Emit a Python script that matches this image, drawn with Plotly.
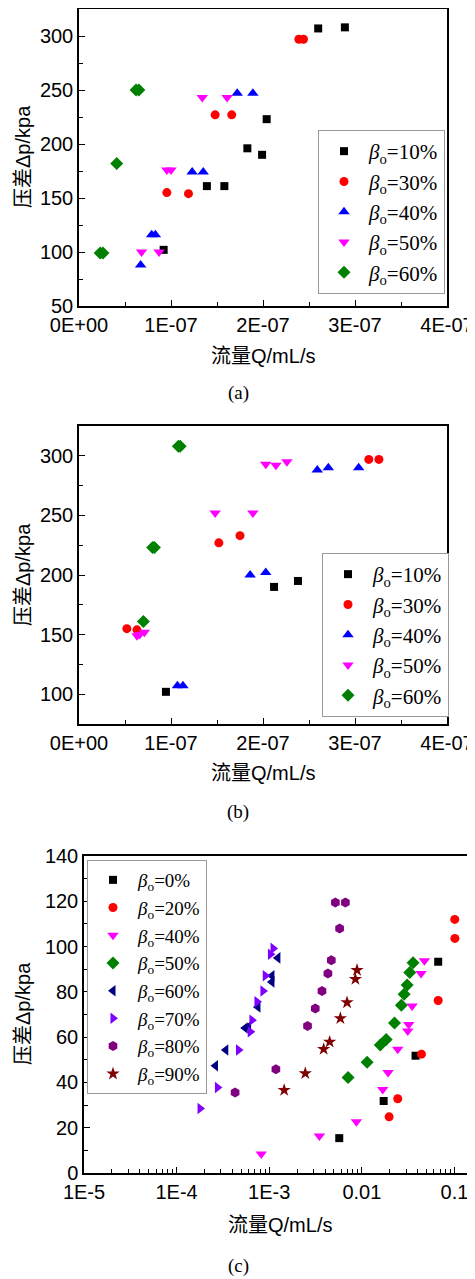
import plotly.graph_objects as go

# ---------------- data ----------------
# Panel (a)
a_x10 = [0.92e-7, 1.39e-7, 1.58e-7, 1.83e-7, 1.99e-7, 2.04e-7, 2.60e-7, 2.89e-7]
a_y10 = [102, 161, 161, 196, 190, 223, 307, 308]
a_x30 = [0.955e-7, 1.19e-7, 1.48e-7, 1.66e-7, 2.39e-7, 2.44e-7]
a_y30 = [155, 154, 227, 227, 297, 297]
a_x40 = [0.67e-7, 0.79e-7, 0.83e-7, 1.23e-7, 1.35e-7, 1.72e-7, 1.89e-7]
a_y40 = [88, 116, 116, 174, 174, 247, 247]
a_x50 = [0.68e-7, 0.87e-7, 0.955e-7, 1.0e-7, 1.34e-7, 1.61e-7]
a_y50 = [100, 100, 176, 176, 243, 243]
a_x60 = [0.23e-7, 0.26e-7, 0.41e-7, 0.62e-7, 0.65e-7]
a_y60 = [99, 99, 182, 250, 250]

# Panel (b)
b_x10 = [0.945e-7, 2.12e-7, 2.38e-7]
b_y10 = [102, 190, 195]
b_x30 = [0.52e-7, 0.63e-7, 1.52e-7, 1.75e-7, 3.15e-7, 3.26e-7]
b_y30 = [155, 154, 227, 233, 297, 297]
b_x40 = [1.07e-7, 1.13e-7, 1.86e-7, 2.03e-7, 2.59e-7, 2.71e-7, 3.04e-7]
b_y40 = [107, 107, 200, 202, 288, 290, 290]
b_x50 = [0.63e-7, 0.66e-7, 0.71e-7, 1.48e-7, 1.89e-7, 2.03e-7, 2.14e-7, 2.26e-7]
b_y50 = [149, 150, 152, 252, 252, 293, 292, 295]
b_x60 = [0.70e-7, 0.80e-7, 0.82e-7, 1.08e-7, 1.10e-7]
b_y60 = [161, 223, 223, 308, 308]

# Panel (c)
c_x0 = [0.0057, 0.0172, 0.038, 0.0667]
c_y0 = [15.4, 31.8, 51.8, 93.3]
c_x20 = [0.0197, 0.0244, 0.044, 0.0667, 0.101, 0.1007]
c_y20 = [24.8, 32.8, 52.5, 76.2, 103.6, 112]
c_x40 = [0.00082, 0.00348, 0.00873, 0.0168, 0.0192, 0.0244, 0.0313, 0.0321, 0.0349, 0.0436, 0.0474]
c_y40 = [8.4, 16.3, 22.6, 36.9, 44.4, 54.7, 62.7, 65.6, 73.8, 88.1, 93.7]
c_x50 = [0.0071, 0.0114, 0.0158, 0.0183, 0.0225, 0.0267, 0.0286, 0.0308, 0.0329, 0.0357]
c_y50 = [42.2, 48.9, 56.5, 59.0, 66.3, 74.1, 78.9, 83.0, 88.6, 92.8]
c_x60 = [0.000263, 0.00034, 0.00055, 0.000598, 0.000755, 0.00107, 0.00107, 0.00124]
c_y60 = [47.4, 54.3, 64.0, 64.6, 73.3, 84.4, 87.1, 95.0]
c_x70 = [0.000179, 0.000276, 0.000466, 0.000624, 0.00065, 0.000737, 0.000855, 0.000906, 0.00103, 0.0011]
c_y70 = [28.5, 37.8, 54.3, 62.4, 67.5, 75.6, 80.4, 87.1, 96.6, 99.2]
c_x80 = [0.000428, 0.00118, 0.00259, 0.00314, 0.00371, 0.0043, 0.00468, 0.00575, 0.00518, 0.00664]
c_y80 = [35.6, 45.8, 64.9, 72.7, 80.4, 88.1, 94.0, 108.0, 119.5, 119.5]
c_x90 = [0.00145, 0.00245, 0.00387, 0.00449, 0.00586, 0.00692, 0.00852, 0.00887]
c_y90 = [36.6, 44.0, 54.7, 57.9, 68.3, 75.3, 85.6, 89.6]

lin_tickvals = [0, 1e-7, 2e-7, 3e-7, 4e-7]
lin_ticktext = ["0E+00", "1E-07", "2E-07", "3E-07", "4E-07"]
log_tickvals = [1e-5, 1e-4, 1e-3, 1e-2, 1e-1]
log_ticktext = ["1E-5", "1E-4", "1E-3", "0.01", "0.1"]
ya_ticks = [50, 100, 150, 200, 250, 300]
yb_ticks = [100, 150, 200, 250, 300]
yc_ticks = [0, 20, 40, 60, 80, 100, 120, 140]

xtitle = "流量Q/mL/s"
ytitle = "压差Δp/kpa"
captions = ["(a)", "(b)", "(c)"]


def lab(p):
    return "<i>β</i><sub>o</sub>=" + p


FONT = "Liberation Sans, Arial, Noto Sans CJK SC"
SERIF = "Liberation Serif, Times New Roman, serif"
OFF = 8            # page body margin
W = 475 - OFF
H = 1279 - OFF


def xf(px):
    return (px - OFF) / W


def yf(py):
    return (H - (py - OFF)) / H


fig = go.Figure()


def add(x, y, name, color, symbol, size, xa, ya, legend):
    fig.add_trace(go.Scatter(
        x=x, y=y, mode="markers", name=lab(name),
        marker=dict(color=color, symbol=symbol, size=size, line=dict(width=0)),
        xaxis=xa, yaxis=ya, legend=legend))


# panel (a)
add(a_x10, a_y10, "10%", "black", "square", 8, "x", "y", "legend")
add(a_x30, a_y30, "30%", "red", "circle", 9, "x", "y", "legend")
add(a_x40, a_y40, "40%", "blue", "triangle-up", 10, "x", "y", "legend")
add(a_x50, a_y50, "50%", "magenta", "triangle-down", 10, "x", "y", "legend")
add(a_x60, a_y60, "60%", "green", "diamond", 10, "x", "y", "legend")
# panel (b)
add(b_x10, b_y10, "10%", "black", "square", 8, "x2", "y2", "legend2")
add(b_x30, b_y30, "30%", "red", "circle", 9, "x2", "y2", "legend2")
add(b_x40, b_y40, "40%", "blue", "triangle-up", 10, "x2", "y2", "legend2")
add(b_x50, b_y50, "50%", "magenta", "triangle-down", 10, "x2", "y2", "legend2")
add(b_x60, b_y60, "60%", "green", "diamond", 10, "x2", "y2", "legend2")
# panel (c)
add(c_x0, c_y0, "0%", "black", "square", 8, "x3", "y3", "legend3")
add(c_x20, c_y20, "20%", "red", "circle", 9, "x3", "y3", "legend3")
add(c_x40, c_y40, "40%", "magenta", "triangle-down", 10, "x3", "y3", "legend3")
add(c_x50, c_y50, "50%", "green", "diamond", 10, "x3", "y3", "legend3")
add(c_x60, c_y60, "60%", "#000080", "triangle-left", 10, "x3", "y3", "legend3")
add(c_x70, c_y70, "70%", "#7F00FF", "triangle-right", 10, "x3", "y3", "legend3")
add(c_x80, c_y80, "80%", "#800080", "hexagon", 10, "x3", "y3", "legend3")
add(c_x90, c_y90, "90%", "#800000", "star", 10, "x3", "y3", "legend3")


axis_common = dict(showline=True, linecolor="black", linewidth=1.5, mirror=True,
                   showgrid=False, zeroline=False, ticks="inside", ticklen=6,
                   tickwidth=1.2, tickcolor="black", automargin=False,
                   tickfont=dict(family=FONT, size=20, color="black"))

fig.update_layout(
    width=W, height=H, margin=dict(l=0, r=0, t=0, b=0),
    paper_bgcolor="white", plot_bgcolor="white",
    xaxis=dict(domain=[xf(79), xf(447)], range=[0, 4e-7], anchor="y",
               tickvals=lin_tickvals, ticktext=lin_ticktext,
               minor=dict(ticks="inside", ticklen=4, dtick=5e-8, tickcolor="black"),
               **axis_common),
    yaxis=dict(domain=[yf(306), yf(9)], range=[50, 325], anchor="x",
               tickvals=ya_ticks,
               minor=dict(ticks="inside", ticklen=4, dtick=25, tickcolor="black"),
               **axis_common),
    xaxis2=dict(domain=[xf(79), xf(447)], range=[0, 4e-7], anchor="y2",
                tickvals=lin_tickvals, ticktext=lin_ticktext,
                minor=dict(ticks="inside", ticklen=4, dtick=5e-8, tickcolor="black"),
                **axis_common),
    yaxis2=dict(domain=[yf(724), yf(426)], range=[75, 325], anchor="x2",
                tickvals=yb_ticks,
                minor=dict(ticks="inside", ticklen=4, dtick=25, tick0=75, tickcolor="black"),
                **axis_common),
    xaxis3=dict(domain=[xf(84), xf(473)], type="log", range=[-5, -0.8], anchor="y3",
                tickvals=log_tickvals, ticktext=log_ticktext,
                minor=dict(ticks="inside", ticklen=4, tickcolor="black",
                           tickvals=[m * 10 ** e for e in range(-5, 0) for m in range(2, 10)]),
                **axis_common),
    yaxis3=dict(domain=[yf(1173), yf(856)], range=[0, 140], anchor="x3",
                tickvals=yc_ticks,
                minor=dict(ticks="inside", ticklen=4, dtick=10, tickcolor="black"),
                **axis_common),
    legend=dict(x=xf(318), y=yf(130), xanchor="left", yanchor="top",
                bordercolor="#999999", borderwidth=1, bgcolor="white", itemwidth=40,
                font=dict(family=SERIF, size=21, color="black")),
    legend2=dict(x=xf(322), y=yf(553), xanchor="left", yanchor="top",
                 bordercolor="#999999", borderwidth=1, bgcolor="white", itemwidth=40,
                 font=dict(family=SERIF, size=21, color="black")),
    legend3=dict(x=xf(87), y=yf(860), xanchor="left", yanchor="top",
                 bordercolor="#999999", borderwidth=1, bgcolor="white", itemwidth=40,
                 font=dict(family=SERIF, size=19, color="black")),
    showlegend=True,
)

# axis titles (as annotations so the layout is fixed)
for xc, ypix in [(263, 356), (263, 773), (280, 1225)]:
    fig.add_annotation(text=xtitle, x=xf(xc), y=yf(ypix), xref="paper", yref="paper",
                       showarrow=False, xanchor="center", yanchor="middle",
                       font=dict(family=FONT, size=20, color="black"))
for ypix in [157, 575, 1014]:
    fig.add_annotation(text=ytitle, x=xf(23), y=yf(ypix), xref="paper", yref="paper",
                       showarrow=False, xanchor="center", yanchor="middle", textangle=-90,
                       font=dict(family=FONT, size=20, color="black"))

for txt, ypix in zip(captions, [393, 812, 1266]):
    fig.add_annotation(text=txt, x=xf(238), y=yf(ypix), xref="paper", yref="paper",
                       showarrow=False, xanchor="center", yanchor="middle",
                       font=dict(family=SERIF, size=19, color="black"))

fig.write_html("out.html")
